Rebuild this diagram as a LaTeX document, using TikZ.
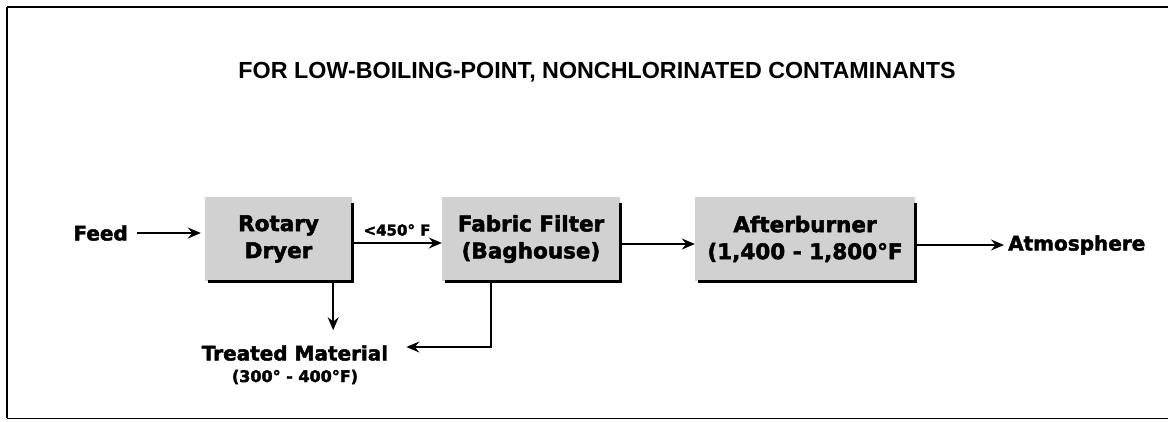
\documentclass[tikz,border=0pt]{standalone}
\usepackage{fontspec}
\setmainfont{DejaVu Sans}[BoldFeatures={FakeBold=2.2}]
\newfontfamily\headfont{Liberation Sans}
\usetikzlibrary{arrows.meta}

\tikzset{
  unit/.style={fill=black!18, minimum height=84pt, inner sep=0pt, align=center,
    font=\bfseries\fontsize{21.5}{27}\selectfont},
  flow/.style={line width=2pt, -{Stealth[length=13pt,width=11pt,inset=4.5pt]}},
  lbl/.style={inner sep=0pt, font=\bfseries\fontsize{20}{24}\selectfont},
  small/.style={inner sep=0pt, font=\bfseries\fontsize{15}{18}\selectfont},
}

\begin{document}
\begin{tikzpicture}[x=1pt,y=-1pt]
    \useasboundingbox (0,0) rectangle (1168,421);
    % frame
    \draw[line width=2.6pt] (1168,7) -- (7,7);
    \draw[line width=1.8pt] (7,7) -- (7,418);
    \draw[line width=1pt] (7,418) -- (1168,418);
    \node[anchor=base, inner sep=0pt, font=\headfont\bfseries\fontsize{23.3}{28}\selectfont] (title) at (597,78)
      {FOR LOW-BOILING-POINT, NONCHLORINATED CONTAMINANTS};
    % units
    \node[unit, minimum width=147pt] (dryer) at (278.5,239) {Rotary\\Dryer};
    \node[unit, minimum width=178pt] (filter) at (531,239) {Fabric Filter\\(Baghouse)};
    \node[unit, minimum width=220pt] (burner) at (805,239) {Afterburner\\(1,400 - 1,800°F};
    \foreach \b in {dryer,filter,burner}
      \draw[line width=2.8pt] ([yshift=-6pt]\b.north east) -- (\b.south east) -- ([xshift=3pt]\b.south west);
    % streams
    \node[lbl, anchor=east] (feed) at (128,233) {Feed};
    \node[small] (temp) at (397,230) {<450° F};
    \node[lbl, anchor=west] (atm) at (1008,245) {Atmosphere};
    \node[lbl] (treated) at (295,353) {Treated Material};
    \node[small, font=\bfseries\fontsize{16}{19}\selectfont] (range) at (295,377) {(300° - 400°F)};
    \draw[flow] ([xshift=9pt]feed.east) -- ([xshift=-4pt]dryer.west |- feed.east);
    \draw[flow] ([yshift=-4pt]dryer.east) -- ([yshift=-4pt]filter.west);
    \draw[flow] ([yshift=-5pt]filter.east) -- ([yshift=-5pt]burner.east -| burner.west);
    \draw[flow] ([yshift=-6pt]burner.east) -- ([xshift=-4pt]atm.west);
    \draw[flow] ([xshift=-19pt]dryer.south east) -- ++(0,49);
    \draw[flow] ([xshift=49pt]filter.south west) |- ([xshift=18pt,yshift=6pt]treated.east);
\end{tikzpicture}
\end{document}
